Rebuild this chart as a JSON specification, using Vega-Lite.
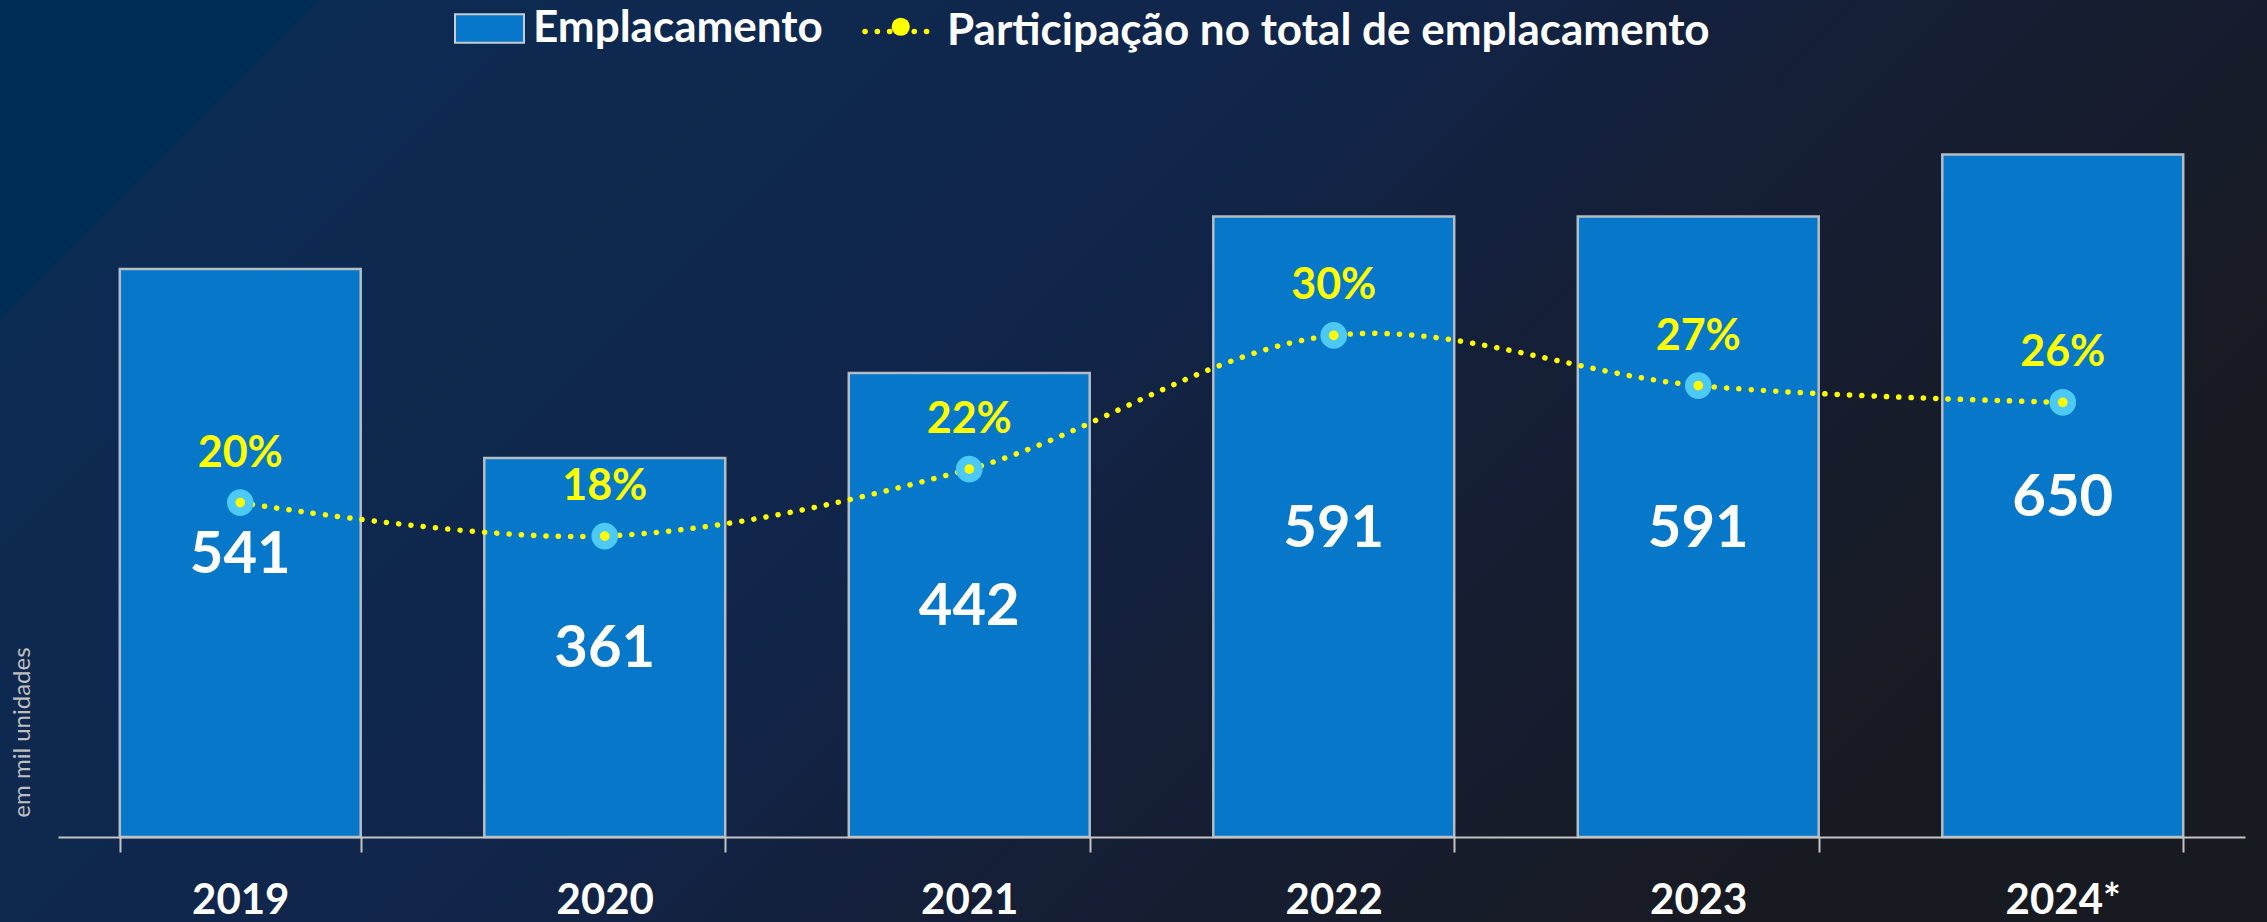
{
  "$schema": "https://vega.github.io/schema/vega-lite/v6.json",
  "width": 2267,
  "height": 922,
  "autosize": {"type": "none"},
  "padding": 0,
  "background": "#10223f",
  "data": {"values": [
    {"ano": "2019", "emplacamento": 541, "participacao": 0.20},
    {"ano": "2020", "emplacamento": 361, "participacao": 0.18},
    {"ano": "2021", "emplacamento": 442, "participacao": 0.22},
    {"ano": "2022", "emplacamento": 591, "participacao": 0.30},
    {"ano": "2023", "emplacamento": 591, "participacao": 0.27},
    {"ano": "2024*", "emplacamento": 650, "participacao": 0.26}
  ]},
  "resolve": {"scale": {"y": "independent"}},
  "layer": [
    {
      "mark": {"type": "bar", "stroke": "#b4bcc4", "strokeWidth": 2.5},
      "encoding": {
        "x": {"field": "ano", "type": "ordinal", "sort": null,
          "scale": {"range": [58, 2245], "paddingInner": 0.339, "paddingOuter": 0.1695},
          "axis": {"title": null, "orient": "bottom", "offset": -85, "zindex": 1, "labelAngle": 0,
            "domainColor": "#c4c4c4", "domainWidth": 2, "tickColor": "#c4c4c4", "tickWidth": 2,
            "tickSize": 15, "tickBand": "extent", "labelPadding": 28, "labelFont": "Lato",
            "labelFontWeight": "bold", "labelFontSize": 42, "labelColor": "#ffffff", "grid": false}},
        "y": {"field": "emplacamento", "type": "quantitative",
          "scale": {"domain": [0, 750], "range": [837, 49.5], "nice": false},
          "axis": {"title": "em mil unidades", "domain": false, "ticks": false, "labels": false, "grid": false,
            "titleAngle": 270, "titleX": 22, "titleY": 732, "titleFont": "Lato", "titleFontWeight": "normal",
            "titleFontSize": 24, "titleColor": "#bfbfbf", "titleBaseline": "middle", "titleAlign": "center"}},
        "fill": {"datum": "Emplacamento", "type": "nominal", "scale": {"range": ["#0677c9"]},
          "legend": {"orient": "none", "legendX": 454, "legendY": -7, "title": null,
            "symbolType": "M-1,-0.41H1V0.41H-1Z", "symbolSize": 4761, "symbolStrokeColor": "#c8ccd0",
            "symbolStrokeWidth": 2, "labelOffset": 8}}
      }
    },
    {
      "mark": {"type": "text", "font": "Lato", "fontWeight": "bold", "fontSize": 58, "color": "#ffffff", "baseline": "middle", "dy": 3},
      "encoding": {
        "x": {"field": "ano", "type": "ordinal", "sort": null},
        "y": {"field": "emplacamento", "type": "quantitative",
          "scale": {"domain": [0, 1500], "range": [837, 49.5], "nice": false}, "axis": null},
        "text": {"field": "emplacamento", "type": "quantitative"}
      }
    },
    {
      "mark": {"type": "line", "interpolate": "catmull-rom", "strokeWidth": 5.5, "strokeDash": [0.1, 12.2], "strokeCap": "round"},
      "encoding": {
        "x": {"field": "ano", "type": "ordinal", "sort": null},
        "y": {"field": "participacao", "type": "quantitative",
          "scale": {"domain": [0, 0.47], "range": [837, 51.2], "nice": false}, "axis": null},
        "stroke": {"datum": "Participação no total de emplacamento", "type": "nominal", "scale": {"range": ["#ffff00"]},
          "legend": {"orient": "none", "legendX": 862, "legendY": -3, "title": null, "symbolType": "stroke",
            "symbolSize": 3969, "symbolStrokeWidth": 5.5, "symbolDash": [0.1, 12.2], "labelOffset": 16,
            "encode": {"symbols": {"update": {"strokeCap": {"value": "round"}}}}}}
      }
    },
    {
      "mark": {"type": "point", "filled": true, "fill": "#ffff00", "stroke": "#4dc9f6", "strokeWidth": 8.5, "size": 330, "opacity": 1},
      "encoding": {
        "x": {"field": "ano", "type": "ordinal", "sort": null},
        "y": {"field": "participacao", "type": "quantitative",
          "scale": {"domain": [0, 0.47], "range": [837, 51.2], "nice": false}, "axis": null},
        "shape": {"datum": "marcador", "type": "nominal", "scale": {"range": ["circle"]},
          "legend": {"orient": "none", "legendX": 878.75, "legendY": 4.75, "title": null, "labelExpr": "''",
            "symbolFillColor": "#ffff00", "symbolStrokeColor": "#4dc9f6", "symbolStrokeWidth": 8.5, "symbolSize": 330,
            "encode": {"symbols": {"update": {"fill": {"value": "#ffff00"}, "stroke": {"value": "#4dc9f6"},
              "strokeWidth": {"value": 8.5}, "size": {"value": 330}, "opacity": {"value": 1}}}}}}
      }
    },
    {
      "mark": {"type": "text", "font": "Lato", "fontWeight": "bold", "fontSize": 43, "color": "#ffff00", "baseline": "middle", "dy": -49},
      "encoding": {
        "x": {"field": "ano", "type": "ordinal", "sort": null},
        "y": {"field": "participacao", "type": "quantitative",
          "scale": {"domain": [0, 0.47], "range": [837, 51.2], "nice": false}, "axis": null},
        "text": {"field": "participacao", "type": "quantitative", "format": ".0%"}
      }
    }
  ],
  "config": {
    "font": "Lato",
    "view": {"stroke": null, "fill": {"gradient": "linear", "x1": 0, "y1": 0, "x2": 1, "y2": 0.4067,
      "stops": [
        {"offset": 0, "color": "#002d56"},
        {"offset": 0.12, "color": "#002d56"},
        {"offset": 0.121, "color": "#0c2b53"},
        {"offset": 0.52, "color": "#11254a"},
        {"offset": 0.69, "color": "#141f38"},
        {"offset": 1, "color": "#181a22"}
      ]}},
    "legend": {"labelFont": "Lato", "labelFontWeight": "bold", "labelFontSize": 44, "labelColor": "#ffffff",
      "padding": 0, "labelLimit": 0}
  }
}
